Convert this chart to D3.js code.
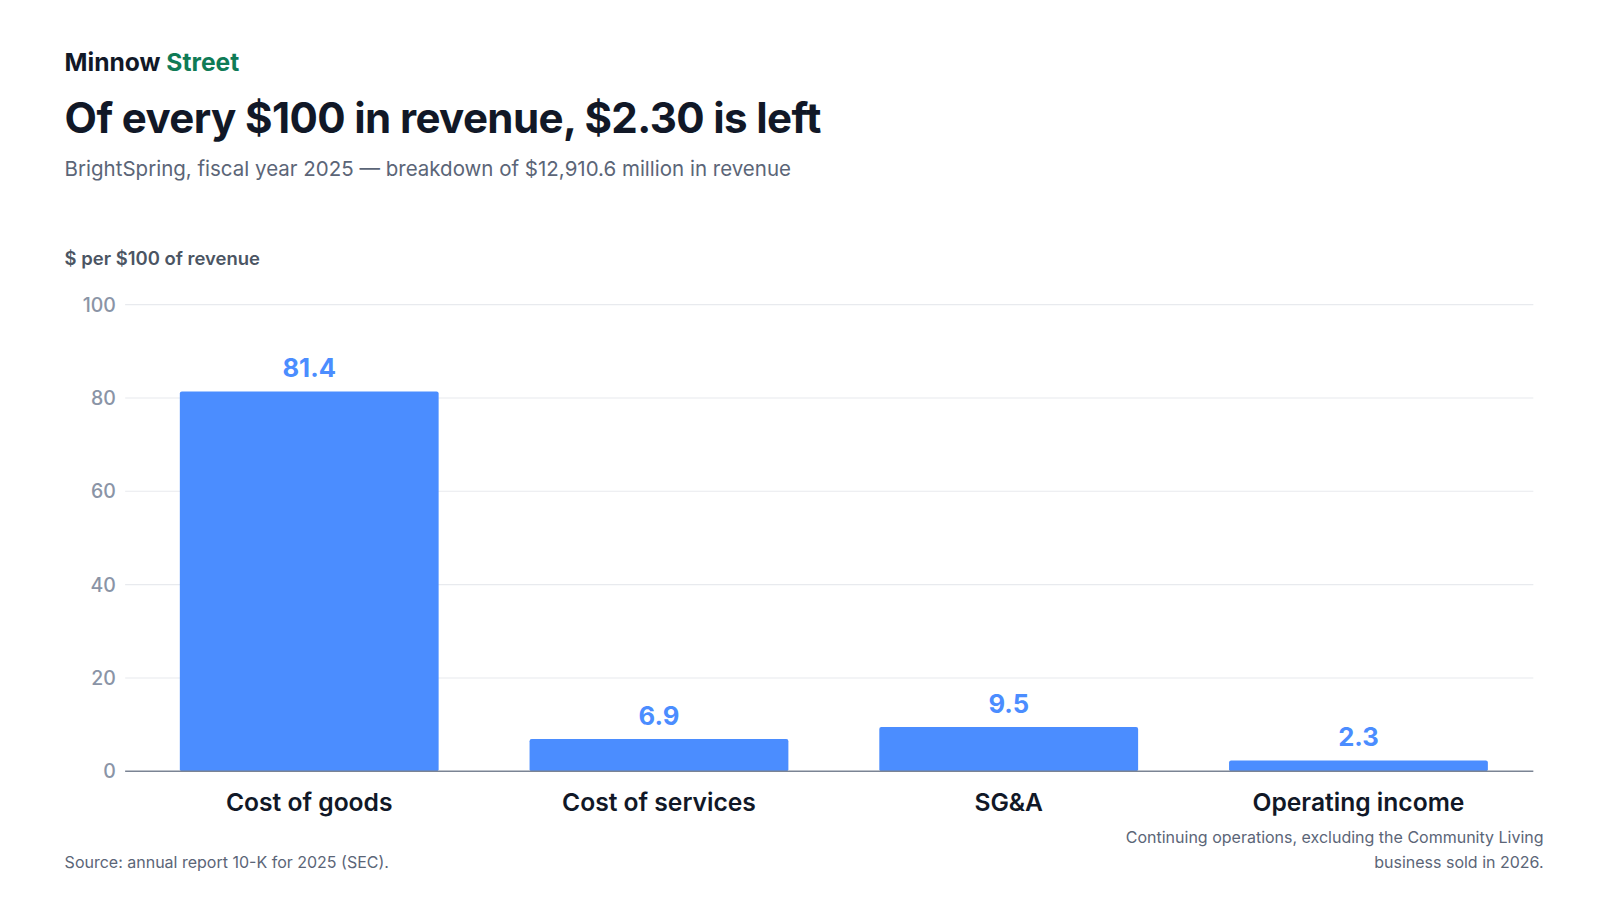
<!DOCTYPE html>
<html>
<head>
<meta charset="utf-8">
<script src="https://cdn.jsdelivr.net/npm/d3@7"></script>
<style>
  body { margin: 0; background: #fff; font-family: Inter, "Noto Sans", sans-serif; }
</style>
</head>
<body>
<div id="chart"></div>
<script>
// Data
const categories = ['Cost of goods', 'Cost of services', 'SG&A', 'Operating income'];
const values = [81.4, 6.9, 9.5, 2.3];
const yTicks = [0, 20, 40, 60, 80, 100];

const W = 1600, H = 900;
const svg = d3.select('#chart').append('svg')
    .attr('width', W).attr('height', H)
    .attr('viewBox', '0 0 1560 877.5');

// Header
const brand = svg.append('text').attr('x', 63).attr('y', 69)
    .attr('font-size', 24).attr('font-weight', 700).attr('fill', '#111827');
brand.append('tspan').text('Minnow ');
brand.append('tspan').attr('fill', '#0f7b56').text('Street');

svg.append('text').attr('x', 63).attr('y', 130)
    .attr('font-size', 41).attr('font-weight', 700).attr('fill', '#111827')
    .attr('letter-spacing', -0.6)
    .text('Of every $100 in revenue, $2.30 is left');

svg.append('text').attr('x', 63).attr('y', 172)
    .attr('font-size', 20).attr('fill', '#5b6577')
    .text('BrightSpring, fiscal year 2025 \u2014 breakdown of $12,910.6 million in revenue');

svg.append('text').attr('x', 63).attr('y', 258)
    .attr('font-size', 18).attr('font-weight', 600).attr('fill', '#4b5563')
    .text('$ per $100 of revenue');

// Scales
const x = d3.scaleBand().domain(categories).range([131, 1495])
    .paddingInner(0.26).paddingOuter(0.13);
const y = d3.scaleLinear().domain([0, 100]).range([752, 297]);

// Grid
svg.append('g').selectAll('line').data(yTicks.filter(d => d > 0)).join('line')
    .attr('x1', 122).attr('x2', 1495)
    .attr('y1', d => y(d)).attr('y2', d => y(d))
    .attr('stroke', '#e8eaee').attr('stroke-width', 1);

svg.append('g').selectAll('text').data(yTicks).join('text')
    .attr('x', 113).attr('y', d => y(d) + 7)
    .attr('text-anchor', 'end').attr('font-size', 19).attr('font-weight', 500)
    .attr('fill', '#8a94a6')
    .text(d => d);

// Bars
svg.append('g').selectAll('rect').data(values).join('rect')
    .attr('x', (d, i) => x(categories[i]))
    .attr('width', x.bandwidth())
    .attr('y', d => y(d))
    .attr('height', d => y(0) - y(d))
    .attr('rx', 2)
    .attr('fill', '#4b8dff');

svg.append('g').selectAll('text').data(values).join('text')
    .attr('x', (d, i) => x(categories[i]) + x.bandwidth() / 2)
    .attr('y', d => y(d) - 14)
    .attr('text-anchor', 'middle').attr('font-size', 25).attr('font-weight', 700)
    .attr('fill', '#4b8dff')
    .text(d => d.toFixed(1));

// Baseline
svg.append('line').attr('x1', 122).attr('x2', 1495)
    .attr('y1', y(0)).attr('y2', y(0))
    .attr('stroke', '#7b8494').attr('stroke-width', 1.5);

// Category labels
svg.append('g').selectAll('text').data(categories).join('text')
    .attr('x', d => x(d) + x.bandwidth() / 2)
    .attr('y', 791)
    .attr('text-anchor', 'middle').attr('font-size', 24).attr('font-weight', 600)
    .attr('fill', '#111827')
    .text(d => d);

// Footer
svg.append('text').attr('x', 63).attr('y', 846)
    .attr('font-size', 15.6).attr('fill', '#5b6577')
    .text('Source: annual report 10-K for 2025 (SEC).');

svg.append('text').attr('x', 1505).attr('y', 822)
    .attr('text-anchor', 'end').attr('font-size', 15.6).attr('fill', '#5b6577')
    .text('Continuing operations, excluding the Community Living');
svg.append('text').attr('x', 1505).attr('y', 846)
    .attr('text-anchor', 'end').attr('font-size', 15.6).attr('fill', '#5b6577')
    .text('business sold in 2026.');
</script>
</body>
</html>
